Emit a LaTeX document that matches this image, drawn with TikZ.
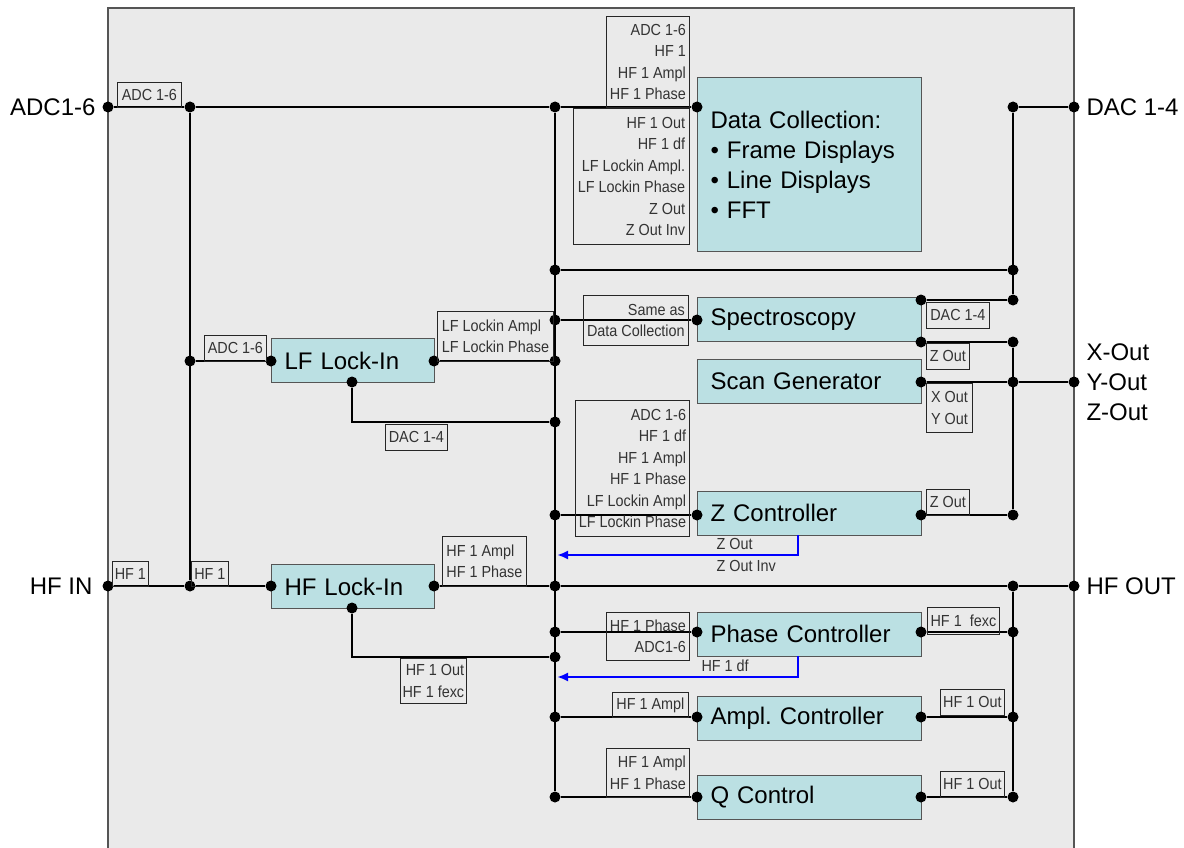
\documentclass[tikz,border=0pt]{standalone}
\usepackage{fontspec}
\setmainfont{Liberation Sans}
\newfontfamily\narrowsf{Liberation Sans}[FakeStretch=0.9]
\usepackage{tikz}
\usetikzlibrary{arrows.meta}
\definecolor{panelgray}{RGB}{234,234,234}
\definecolor{blockcyan}{RGB}{187,224,227}
\definecolor{edgegray}{RGB}{85,85,85}
\definecolor{sigblue}{RGB}{0,0,255}

\begin{document}
\begin{tikzpicture}[x=1pt,y=-1pt,>={Latex[length=11pt,width=9pt]},
  blk/.style={draw=edgegray,line width=1pt,fill=blockcyan,anchor=west,inner xsep=13pt,inner ysep=0pt,minimum height=44pt,text width=#1,align=left,font=\fontsize{24}{30}\selectfont},
  blk/.default=198pt,
  lbl/.style={draw=black!85,line width=0.8pt,inner sep=2pt,anchor=north west,text=black!80,font=\narrowsf\fontsize{16}{21.5}\selectfont},
  sz/.style 2 args={minimum width=#1pt,minimum height=#2pt},
  sig/.style={text=black!80,font=\narrowsf\fontsize{16}{21.5}\selectfont},
  dot/.style={circle,fill=black,inner sep=0pt,minimum size=11pt},
  wire/.style={line width=2.8pt},
  fb/.style={->,draw=sigblue,line width=2.5pt},
  port/.style={font=\fontsize{24}{30}\selectfont}]
  \useasboundingbox (0,0) rectangle (1184,848);
  \fill[white] (0,0) rectangle (1184,848);
  % housing
  \fill[panelgray] (108,8) rectangle (1074,848);
  \draw[edgegray,line width=1.2pt] (108,848) |- (1074,8) -- (1074,848);
  % external ports
  \node[port,anchor=east] (tADCin) at (99,107) {ADC1-6};
  \node[port,anchor=east] (tHFin) at (96,586) {HF IN};
  \node[port,anchor=west] (tDACout) at (1083,107) {DAC 1-4};
  \node[port,anchor=west,align=left] (tXYZout) at (1083,382) {X-Out\\Y-Out\\Z-Out};
  \node[port,anchor=west] (tHFout) at (1083,586) {HF OUT};
  % function blocks
  \node[blk,minimum height=173pt] (dc) at (697,164.5) {Data Collection:\\\textbullet{} Frame Displays\\\textbullet{} Line Displays\\\textbullet{} FFT};
  \node[blk] (spec) at (697,319.5) {Spectroscopy};
  \node[blk] (scan) at (697,381) {Scan Generator};
  \node[blk] (zc) at (697,513) {Z Controller};
  \node[blk] (pc) at (697,634) {Phase Controller};
  \node[blk] (ac) at (697,718) {Ampl.\ Controller};
  \node[blk] (qc) at (697,797) {Q Control};
  \node[blk=137pt] (lf) at (271,360.5) {LF Lock-In};
  \node[blk=137pt] (hf) at (271,586.5) {HF Lock-In};
  % junctions and ports
  \foreach \n/\x/\y in {adcin/108/107,hfin/108/586,dacout/1074/107,xyzout/1074/382,hfout/1074/586,
    lb1/190/107,lb2/190/361,lb3/190/586,
    lfin/271/361,lfout/434/361,lfdac/352/382,hfip/271/586,hfop/434/586,hfdn/352/608,
    mb1/555/107,mb2/555/270,mb3/555/320,mb4/555/361,mb5/555/422,mb6/555/515,mb7/555/586,mb8/555/632,mb9/555/657,mb10/555/717,mb11/555/797,
    dcin/697/107,spin/697/320,zcin/697/515,pcin/697/632,acin/697/717,qcin/697/797,
    spdac/921/300,spz/921/342,scout/921/382,zcout/921/515,pcout/921/632,acout/921/717,qcout/921/797,
    rb1/1013/107,rb2/1013/270,rb3/1013/300,rb4/1013/342,rb5/1013/382,rb6/1013/515,rb7/1013/586,rb8/1013/632,rb9/1013/717,rb10/1013/797}
    \node[dot] (\n) at (\x,\y) {};
  % wiring
  \draw[wire] (adcin) -- (lb1) -- (mb1) -- (dcin);
  \draw[wire] (lb1) -- (lb3);
  \draw[wire] (hfin) -- (lb3) -- (hfip);
  \draw[wire] (lb2) -- (lfin);
  \draw[wire] (lfout) -- (mb4);
  \draw[wire] (lfdac) |- (mb5);
  \draw[wire] (hfop) -- (mb7) -- (rb7) -- (hfout);
  \draw[wire] (hfdn) |- (mb9);
  \draw[wire] (mb1) -- (mb11);
  \draw[wire] (mb2) -- (rb2);
  \draw[wire] (mb3) -- (spin);
  \draw[wire] (mb6) -- (zcin);
  \draw[wire] (mb8) -- (pcin);
  \draw[wire] (mb10) -- (acin);
  \draw[wire] (mb11) -- (qcin);
  \draw[wire] (dacout) -- (rb1) -- (rb3) -- (spdac);
  \draw[wire] (spz) -- (rb4) -- (rb6) -- (zcout);
  \draw[wire] (scout) -- (rb5) -- (xyzout);
  \draw[wire] (rb7) -- (rb10) -- (qcout);
  \draw[wire] (pcout) -- (rb8);
  \draw[wire] (acout) -- (rb9);
  % feedback paths
  \coordinate (zfb) at (798,535);
  \coordinate (zfbend) at (557,555);
  \coordinate (pfb) at (798,656);
  \coordinate (pfbend) at (557,677);
  \draw[fb] (zfb) |- (zfbend);
  \draw[fb] (pfb) |- (pfbend);
  \node[sig,anchor=west] (tZfb1) at (713,544) {Z Out};
  \node[sig,anchor=west] (tZfb2) at (713,566) {Z Out Inv};
  \node[sig,anchor=west] (tPfb) at (698,666) {HF 1 df};
  % signal labels
  \node[lbl,sz={64}{25}] (lAdcIn) at (117,82) {ADC 1-6};
  \node[lbl,sz={83}{91},align=right] (lDcTop) at (606,16) {ADC 1-6\\HF 1\\HF 1 Ampl\\HF 1 Phase};
  \node[lbl,sz={116}{136},align=right] (lDcBot) at (573,108) {HF 1 Out\\HF 1 df\\LF Lockin Ampl.\\LF Lockin Phase\\Z Out\\Z Out Inv};
  \node[lbl,sz={62}{26}] (lLfIn) at (204,335) {ADC 1-6};
  \node[lbl,sz={116}{50},align=left] (lLfOut) at (437,311) {LF Lockin Ampl\\LF Lockin Phase};
  \node[lbl,sz={62}{26}] (lLfDac) at (385,424) {DAC 1-4};
  \node[lbl,sz={105}{50},align=right] (lSpIn) at (583,295) {Same as\\Data Collection};
  \node[lbl,sz={63}{26}] (lSpDac) at (926,302) {DAC 1-4};
  \node[lbl,sz={43}{26}] (lSpZ) at (926,343) {Z Out};
  \node[lbl,sz={46}{49},align=left] (lScan) at (926,383) {X Out\\Y Out};
  \node[lbl,sz={114}{136},align=right] (lZcIn) at (575,400) {ADC 1-6\\HF 1 df\\HF 1 Ampl\\HF 1 Phase\\LF Lockin Ampl\\LF Lockin Phase};
  \node[lbl,sz={43}{26}] (lZcOut) at (926,489) {Z Out};
  \node[lbl,sz={36}{25}] (lHfIn) at (112,561) {HF 1};
  \node[lbl,sz={37}{25}] (lHfBus) at (191,561) {HF 1};
  \node[lbl,sz={84}{50},align=left] (lHfOut) at (442,536) {HF 1 Ampl\\HF 1 Phase};
  \node[lbl,sz={66}{45},align=right] (lHfDn) at (400,658) {HF 1 Out\\HF 1 fexc};
  \node[lbl,sz={83}{48},align=right] (lPcIn) at (606,612) {HF 1 Phase\\ADC1-6};
  \node[lbl,sz={72}{27}] (lPcOut) at (927,607) {HF 1 \ fexc};
  \node[lbl,sz={76}{25}] (lAcIn) at (612,692) {HF 1 Ampl};
  \node[lbl,sz={64}{26}] (lAcOut) at (940,689) {HF 1 Out};
  \node[lbl,sz={83}{49},align=right] (lQcIn) at (606,748) {HF 1 Ampl\\HF 1 Phase};
  \node[lbl,sz={64}{26}] (lQcOut) at (940,771) {HF 1 Out};
\end{tikzpicture}
\end{document}
